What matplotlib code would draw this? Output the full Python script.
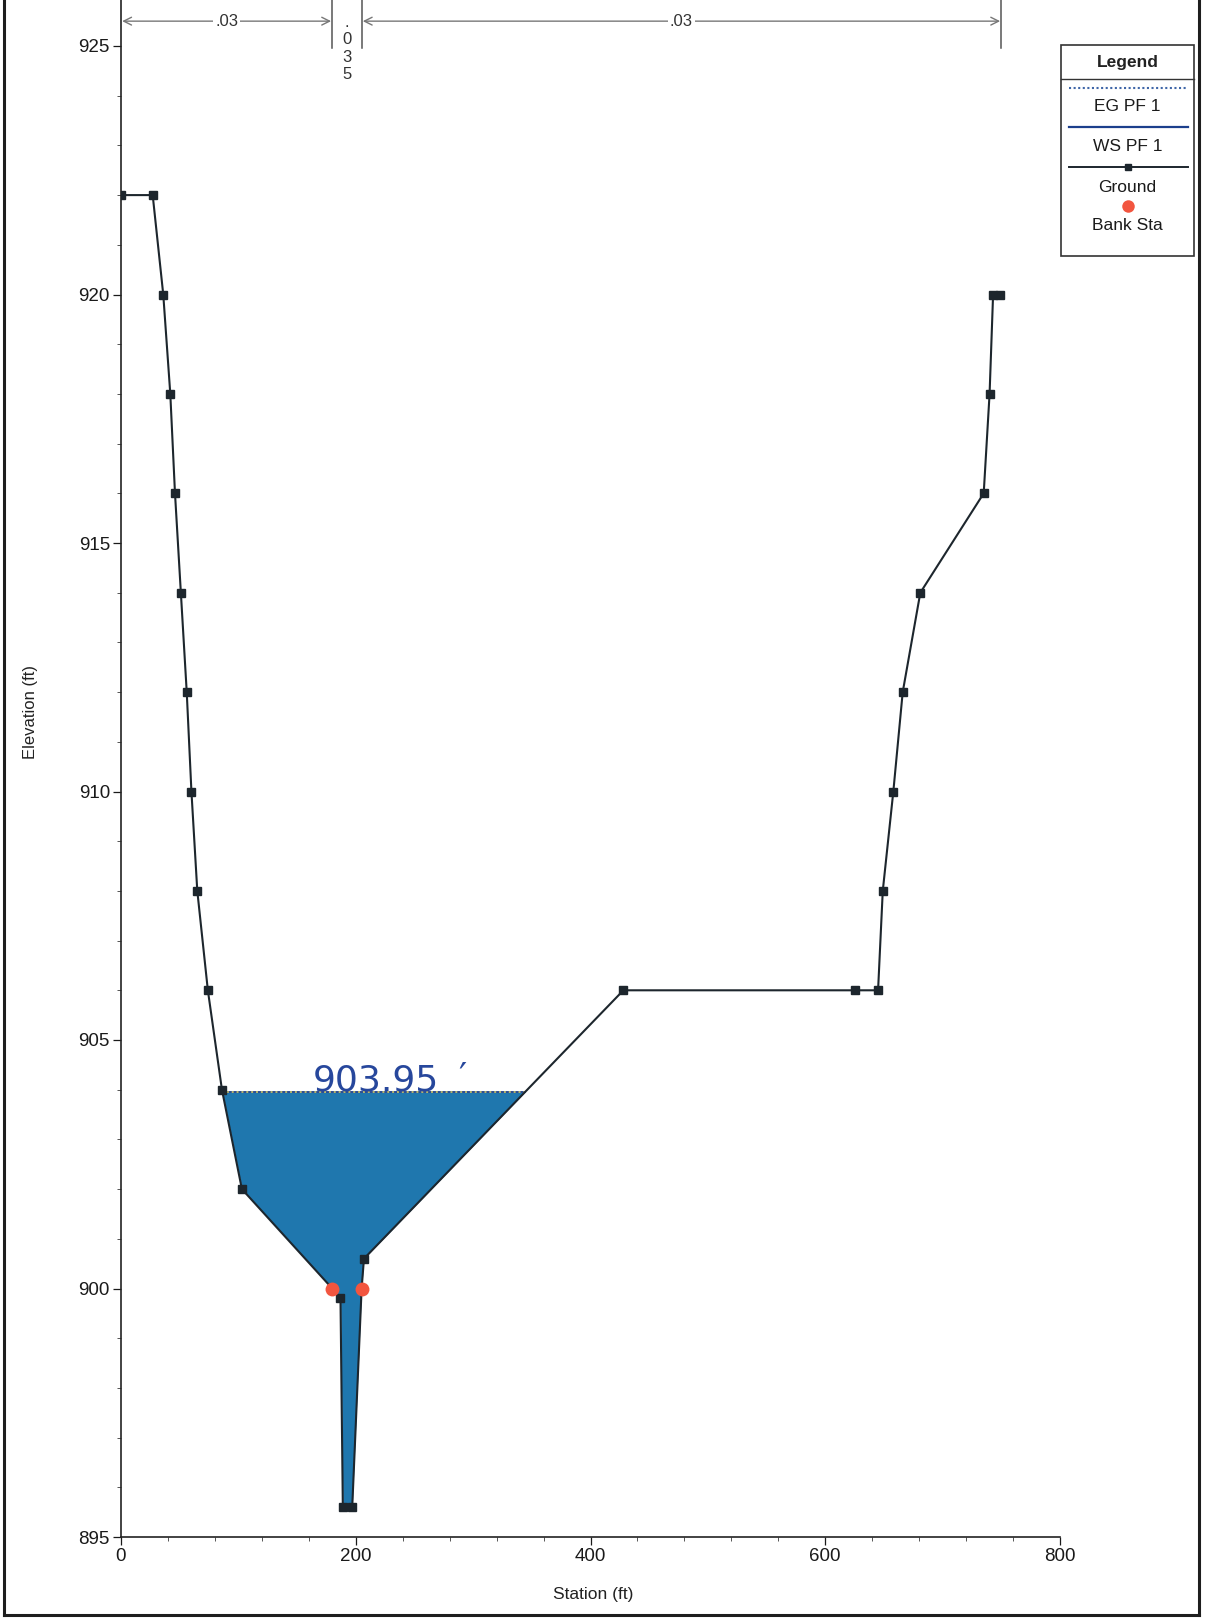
# Cross section plot - ground profile, water surface and Manning's n zones
import numpy as np
import matplotlib.pyplot as plt
from matplotlib.patches import Rectangle

plt.rcParams['font.family'] = ['Liberation Sans', 'DejaVu Sans']

# Ground points (station ft, elevation ft)
station = [0, 27, 36, 42, 46, 51, 56, 60, 65, 74, 86, 103, 180, 187, 189, 197,
           205, 207, 428, 625, 645, 649, 658, 666, 681, 735, 740, 743, 749]
elev = [922, 922, 920, 918, 916, 914, 912, 910, 908, 906, 904, 902, 900, 899.8,
        895.6, 895.6, 900, 900.6, 906, 906, 906, 908, 910, 912, 914, 916, 918,
        920, 920]

# Bank stations
bank_sta = [180, 205]
bank_elev = [900, 900]

# Profile PF 1
ws_elev = 903.95
eg_elev = 903.96

# Manning's n zones
n_edges = [0, 180, 205, 750]
n_values = ['.03', '.035', '.03']

x_ticks = [0, 200, 400, 600, 800]
y_ticks = [895, 900, 905, 910, 915, 920, 925]

W, H = 1208, 1618
fig = plt.figure(figsize=(W / 100, H / 100), dpi=100)
fig.patch.set_facecolor('white')

# axes box in pixels
ax_l, ax_r, ax_b, ax_t = 121, 1060, 1537, 0
ax = fig.add_axes([ax_l / W, (H - ax_b) / H, (ax_r - ax_l) / W, (ax_b - ax_t) / H])
ax.set_xlim(0, 800)
ax.set_ylim(895, 925 + 46 / 49.7)

st = np.array(station, dtype=float)
el = np.array(elev, dtype=float)


def wet_limits(x, z, level):
    # first and last crossing of the ground by a horizontal level
    xs = []
    for i in range(len(x) - 1):
        z0, z1 = z[i] - level, z[i + 1] - level
        if z0 * z1 < 0:
            xs.append(x[i] + (x[i + 1] - x[i]) * z0 / (z0 - z1))
    return xs[0], xs[-1]


water = '#1f77ae'
ax.fill_between(st, el, ws_elev, where=el <= ws_elev, interpolate=True,
                color=water, lw=0, zorder=1)
x_left, x_right = wet_limits(st, el, ws_elev)
ax.plot([x_left, x_right], [ws_elev, ws_elev], color='#1c3f8c', lw=1.3, zorder=2)
ax.plot([x_left, x_right], [eg_elev, eg_elev], color='#b8b86a', lw=1.4,
        ls=(0, (1, 1.5)), zorder=3)

ax.plot(st, el, color='#1d262d', lw=1.5, marker='s', ms=5.5, zorder=4)
ax.plot(bank_sta, bank_elev, 'o', color='#f2553f', ms=10, mec='none', zorder=5)

# Manning's n bars along the top
arrow_y = 925.5
top_y = ax.get_ylim()[1]
for xe in n_edges[1:]:
    ax.plot([xe, xe], [924.95, top_y], color='#555555', lw=1.1, clip_on=False, zorder=6)
for k, n in enumerate(n_values):
    a, b = n_edges[k], n_edges[k + 1]
    if len(n) <= 3:
        ax.annotate('', xy=(a + 1, arrow_y), xytext=(b - 1, arrow_y),
                    arrowprops=dict(arrowstyle='<->', color='#777777', lw=1.0,
                                    shrinkA=0, shrinkB=0, mutation_scale=14))
        ax.text((a + b) / 2, arrow_y, n, ha='center', va='center', fontsize=12,
                color='#333333',
                bbox=dict(facecolor='white', edgecolor='none', pad=1.5), zorder=7)
    else:
        ax.text((a + b) / 2, top_y - 0.3, '\n'.join(n), ha='center', va='top',
                fontsize=12, color='#333333', linespacing=1.2, zorder=7)

# handwritten water surface note
ax.text(163, ws_elev + 0.04, '903.95', fontsize=26, color='#27479c',
        family='DejaVu Sans', va='baseline', zorder=8)
ax.text(287, ws_elev + 0.09, '\u2032', fontsize=26, color='#27479c',
        family='DejaVu Sans', va='baseline', zorder=8)

ax.set_xticks(x_ticks)
ax.set_yticks(y_ticks)
ax.set_xticks(np.arange(0, 801, 40), minor=True)
ax.set_yticks(np.arange(895, 926, 1), minor=True)
ax.tick_params(which='major', direction='out', length=6, width=0.9,
               labelsize=13.5, colors='#1a1a1a', pad=2)
ax.tick_params(which='minor', direction='out', length=3, width=0.7, colors='#555555')
for side in ['top', 'right']:
    ax.spines[side].set_visible(False)
for side in ['left', 'bottom']:
    ax.spines[side].set_color('#222222')
    ax.spines[side].set_linewidth(1.2)

fig.text(31 / W, 1 - 712 / H, 'Elevation (ft)', rotation=90, ha='center',
         va='center', fontsize=12, color='#222222')
fig.text(593 / W, 1 - 1594 / H, 'Station (ft)', ha='center', va='center',
         fontsize=12.5, color='#222222')

# overlay in pixel units for the legend box and page frame
ov = fig.add_axes([0, 0, 1, 1], zorder=10)
ov.set_xlim(0, W)
ov.set_ylim(H, 0)
ov.axis('off')
ov.patch.set_alpha(0)

lg_l, lg_r, lg_t, lg_b = 1061, 1194, 45, 256
ov.add_patch(Rectangle((lg_l, lg_t), lg_r - lg_l, lg_b - lg_t, facecolor='white',
                       edgecolor='#333333', lw=1.2))
cx = (lg_l + lg_r) / 2
ov.text(cx, 62, 'Legend', ha='center', va='center', fontsize=12.5,
        fontweight='bold', color='#222222')
ov.plot([lg_l, lg_r], [79, 79], color='#333333', lw=1.0)
ov.plot([lg_l + 8, lg_r - 6], [88, 88], color='#3f66a8', lw=1.5, ls=(0, (1, 1.2)))
ov.text(cx, 106, 'EG PF 1', ha='center', va='center', fontsize=12.5, color='#1a1a1a')
ov.plot([lg_l + 8, lg_r - 6], [127, 127], color='#1c3f8c', lw=1.6)
ov.text(cx, 146, 'WS PF 1', ha='center', va='center', fontsize=12.5, color='#1a1a1a')
ov.plot([lg_l + 8, lg_r - 6], [167, 167], color='#1d262d', lw=1.4)
ov.plot([cx], [167], marker='s', color='#1d262d', ms=5)
ov.text(cx, 187, 'Ground', ha='center', va='center', fontsize=12.5, color='#1a1a1a')
ov.plot([cx], [206], 'o', color='#f2553f', ms=9, mec='none')
ov.text(cx, 225, 'Bank Sta', ha='center', va='center', fontsize=12.5, color='#1a1a1a')

# page frame
ov.plot([4, 4], [0, 1615], color='#1e1e1e', lw=2.2)
ov.plot([1199, 1199], [0, 1615], color='#1e1e1e', lw=2.2)
ov.plot([4, 1199], [1615, 1615], color='#1e1e1e', lw=2.2)

fig.savefig('out.png', dpi=100, facecolor='white')
